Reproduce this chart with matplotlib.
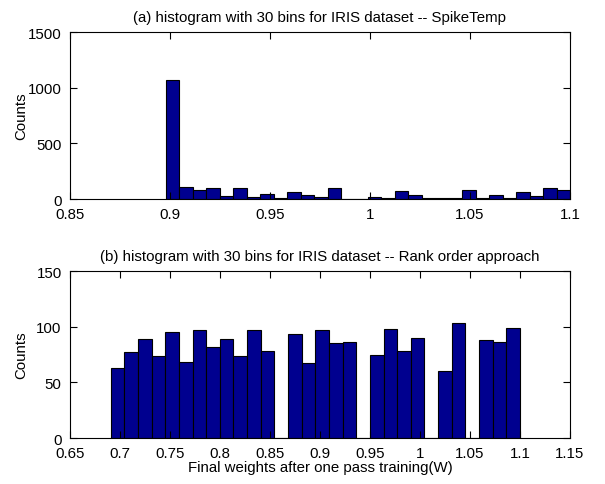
import numpy as np
import matplotlib
matplotlib.use("Agg")
import matplotlib.pyplot as plt

plt.rcParams['font.family'] = ['Liberation Sans', 'DejaVu Sans']

# SpikeTemp: 30 bins spanning the weight range
spike_lo, spike_hi = 0.898, 1.1
spike_counts = [1070, 105, 84, 96, 30, 96, 21, 45, 12, 66,
                33, 21, 96, 3, 3, 21, 9, 75, 33, 6,
                6, 6, 84, 9, 33, 9, 66, 30, 96, 84]

# Rank order approach: 30 bins
rank_lo, rank_hi = 0.6907, 1.1
rank_counts = [63, 77, 89, 74, 95, 68, 97, 82, 89, 74,
               97, 78, 0, 93, 67, 97, 85, 86, 0, 75,
               98, 78, 90, 0, 60, 103, 0, 88, 86, 99]

top_title = "(a) histogram with 30 bins for IRIS dataset -- SpikeTemp"
bot_title = "(b) histogram with 30 bins for IRIS dataset -- Rank order approach"
xlab = "Final weights after one pass training(W)"

bar_col = (0, 0, 0.5625)
fs = 10.8

fig = plt.figure(figsize=(6.05, 4.85), dpi=100)
ax1 = fig.add_axes([0.1157, 0.5876, 0.8264, 0.3443])
ax2 = fig.add_axes([0.1157, 0.0948, 0.8264, 0.3443])


def draw_hist(ax, lo, hi, counts):
    edges = np.linspace(lo, hi, len(counts) + 1)
    ax.bar(edges[:-1], counts, width=np.diff(edges), align='edge',
           color=bar_col, edgecolor='black', linewidth=0.8)


draw_hist(ax1, spike_lo, spike_hi, spike_counts)
draw_hist(ax2, rank_lo, rank_hi, rank_counts)

ax1.set_xlim(0.85, 1.1)
ax1.set_ylim(0, 1500)
ax1.set_xticks([0.85, 0.9, 0.95, 1, 1.05, 1.1])
ax1.set_xticklabels(['0.85', '0.9', '0.95', '1', '1.05', '1.1'])
ax1.set_yticks([0, 500, 1000, 1500])
ax1.set_title(top_title, fontsize=fs, pad=8)

ax2.set_xlim(0.65, 1.15)
ax2.set_ylim(0, 150)
ax2.set_xticks([0.65, 0.7, 0.75, 0.8, 0.85, 0.9, 0.95, 1, 1.05, 1.1, 1.15])
ax2.set_xticklabels(['0.65', '0.7', '0.75', '0.8', '0.85', '0.9', '0.95',
                     '1', '1.05', '1.1', '1.15'])
ax2.set_yticks([0, 50, 100, 150])
ax2.set_title(bot_title, fontsize=fs, pad=8)
ax2.set_xlabel(xlab, fontsize=fs, labelpad=0)

for ax in (ax1, ax2):
    ax.set_ylabel("Counts", fontsize=fs)
    ax.yaxis.set_label_coords(-0.084, 0.5)
    ax.tick_params(direction='in', top=True, right=True, length=5,
                   width=0.8, labelsize=fs)
    ax.tick_params(axis='x', pad=6)
    ax.tick_params(axis='y', pad=6)
    for lab in ax.get_yticklabels():
        lab.set_va('center_baseline')
    for s in ax.spines.values():
        s.set_linewidth(0.8)

fig.savefig("out.png", dpi=100)
